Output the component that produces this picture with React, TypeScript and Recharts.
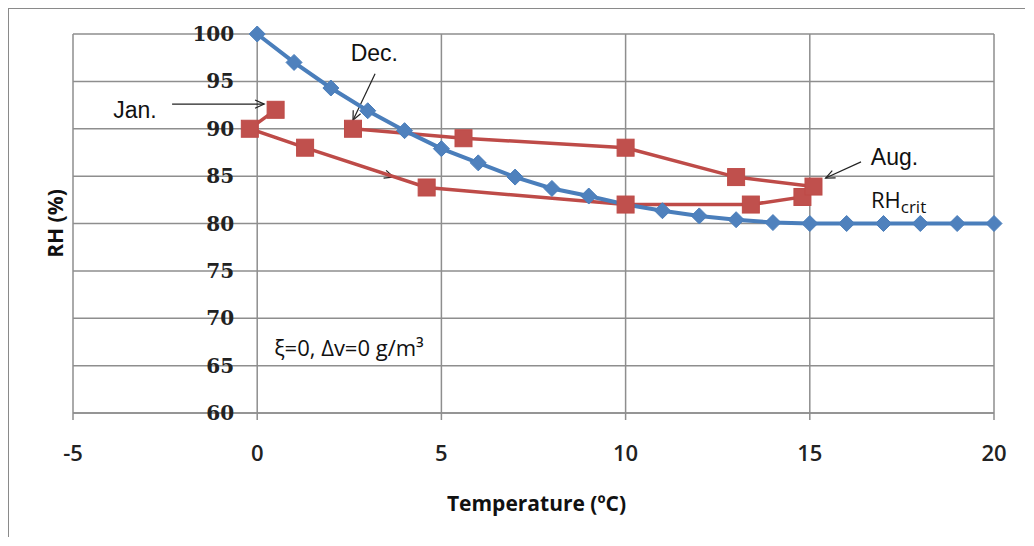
import React from 'react';
import {
  ScatterChart,
  Scatter,
  XAxis,
  YAxis,
  CartesianGrid,
  ReferenceLine,
  ReferenceDot,
} from 'recharts';

// ---- data ----
const critTemp = [0, 1, 2, 3, 4, 5, 6, 7, 8, 9, 10, 11, 12, 13, 14, 15, 16, 17, 18, 19, 20];
const critRH = [100, 97, 94.3, 91.9, 89.8, 87.9, 86.4, 84.9, 83.7, 82.9, 82.0, 81.35, 80.8, 80.4, 80.1, 80, 80, 80, 80, 80, 80];

const months = ['Jan', 'Feb', 'Mar', 'Apr', 'May', 'Jun', 'Jul', 'Aug', 'Sep', 'Oct', 'Nov', 'Dec'];
const monthTemp = [0.5, -0.2, 1.3, 4.6, 10.0, 13.4, 14.8, 15.1, 13.0, 10.0, 5.6, 2.6];
const monthRH = [92, 90, 88, 83.8, 82, 82, 82.8, 83.9, 84.9, 88, 89, 90];

const xTicks = [-5, 0, 5, 10, 15, 20];
const yTicks = [60, 65, 70, 75, 80, 85, 90, 95, 100];

// annotation texts (data coordinates)
const noteTexts = [
  { x: -3.32, y: 92.0, text: 'Jan.' },
  { x: 3.18, y: 98.0, text: 'Dec.' },
  { x: 17.3, y: 87.0, text: 'Aug.' },
];
// arrows (data coordinates): from -> to
const arrows = [
  { x1: -2.31, y1: 92.6, x2: 0.19, y2: 92.6 },
  { x1: 3.2, y1: 95.8, x2: 2.6, y2: 90.9 },
  { x1: 2.23, y1: 86.8, x2: 3.7, y2: 84.9 },
  { x1: 16.39, y1: 86.5, x2: 15.43, y2: 84.8 },
];
const critLabel = { x: 16.66, y: 82.6 };
const paramLabel = { x: 0.46, y: 67.0, text: 'ξ=0, Δv=0 g/m³' };

const critData = critTemp.map((t, i) => ({ x: t, y: critRH[i] }));
const monthData = monthTemp.map((t, i) => ({ x: t, y: monthRH[i], m: months[i] }));
const yTickData = yTicks.map((v) => ({ x: 0, y: v }));

const BLUE = '#4A7EBB';
const BLUE_M = '#4F81BD';
const RED = '#BE4B48';
const RED_M = '#C0504D';
const GRID = '#8e8e8e';

const W = 1016;
const H = 528;

const Diamond = (p: any) => {
  const { cx, cy } = p;
  const r = 8;
  return (
    <polygon
      points={`${cx},${cy - r} ${cx + r},${cy} ${cx},${cy + r} ${cx - r},${cy}`}
      fill={BLUE_M}
      stroke={BLUE}
      strokeWidth={1}
    />
  );
};

const Square = (p: any) => {
  const { cx, cy } = p;
  const r = 8.5;
  return <rect x={cx - r} y={cy - r} width={2 * r} height={2 * r} fill={RED_M} stroke={RED} strokeWidth={1} />;
};

const Empty = () => <g />;

const YTickLabel = (p: any) => (
  <text
    x={p.cx - 23}
    y={p.cy}
    textAnchor="end"
    dominantBaseline="central"
    fontFamily="'DejaVu Serif', serif"
    fontWeight="bold"
    fontSize={20}
    fill="#222"
  >
    {p.payload.y}
  </text>
);

const Arrow = (p: any) => {
  const { x1, y1, x2, y2 } = p;
  const a = Math.atan2(y2 - y1, x2 - x1);
  const L = 10;
  const s = 0.42;
  const ax = x2 - L * Math.cos(a - s);
  const ay = y2 - L * Math.sin(a - s);
  const bx = x2 - L * Math.cos(a + s);
  const by = y2 - L * Math.sin(a + s);
  return (
    <g>
      <line x1={x1} y1={y1} x2={x2} y2={y2} stroke="#222" strokeWidth={1.2} />
      <polyline points={`${ax},${ay} ${x2},${y2} ${bx},${by}`} fill="none" stroke="#222" strokeWidth={1.2} />
    </g>
  );
};

export default function App() {
  return (
    <div
      style={{
        width: W,
        height: H,
        borderLeft: '1px solid #8a8a8a',
        borderTop: '1px solid #8a8a8a',
        background: '#fff',
      }}
    >
      <ScatterChart width={W} height={H} margin={{ top: 25, right: 31, left: 0, bottom: 64 }}>
        <CartesianGrid stroke={GRID} strokeWidth={1.5} horizontal vertical />
        <XAxis
          type="number"
          dataKey="x"
          domain={[-5, 20]}
          ticks={xTicks}
          height={60}
          tickSize={7}
          tickMargin={25}
          axisLine={{ stroke: GRID, strokeWidth: 1.5 }}
          tickLine={{ stroke: GRID, strokeWidth: 1.5 }}
          tick={{ fontFamily: "'Open Sans', sans-serif", fontWeight: 600, fontSize: 22, fill: '#222' }}
          label={{
            content: (props: any) => {
              const vb = props.viewBox;
              return (
                <text
                  x={vb.x + vb.width / 2 + 3}
                  y={vb.y + 90}
                  textAnchor="middle"
                  dominantBaseline="central"
                  fontFamily="'Open Sans', sans-serif"
                  fontWeight="bold"
                  fontSize={21}
                  fill="#111"
                >
                  Temperature  (ºC)
                </text>
              );
            },
          }}
        />
        <YAxis
          type="number"
          dataKey="y"
          domain={[60, 100]}
          ticks={yTicks}
          width={64}
          tick={Empty}
          tickLine={false}
          axisLine={false}
          label={{
            content: (props: any) => {
              const vb = props.viewBox;
              const cx = vb.x + 46;
              const cy = vb.y + vb.height / 2;
              return (
                <text
                  x={cx}
                  y={cy}
                  textAnchor="middle"
                  dominantBaseline="central"
                  transform={`rotate(-90, ${cx}, ${cy})`}
                  fontFamily="'Open Sans', sans-serif"
                  fontWeight="bold"
                  fontSize={21}
                  fill="#111"
                >
                  RH (%)
                </text>
              );
            },
          }}
        />
        <Scatter data={yTickData} shape={YTickLabel} isAnimationActive={false} />
        <Scatter
          data={monthData}
          line={{ stroke: RED, strokeWidth: 3.5 }}
          lineType="joint"
          shape={Empty}
          isAnimationActive={false}
        />
        <Scatter
          data={critData}
          line={{ stroke: BLUE, strokeWidth: 4 }}
          lineType="joint"
          shape={Diamond}
          isAnimationActive={false}
        />
        <Scatter data={monthData} shape={Square} isAnimationActive={false} />
        {arrows.map((a, i) => (
          <ReferenceLine
            key={'a' + i}
            segment={[
              { x: a.x1, y: a.y1 },
              { x: a.x2, y: a.y2 },
            ]}
            ifOverflow="visible"
            shape={Arrow}
          />
        ))}
        {noteTexts.map((n, i) => (
          <ReferenceDot
            key={'t' + i}
            x={n.x}
            y={n.y}
            r={0}
            ifOverflow="visible"
            shape={(p: any) => (
              <text
                x={p.cx}
                y={p.cy}
                textAnchor="middle"
                dominantBaseline="central"
                fontFamily="'Liberation Sans', Arial, sans-serif"
                fontSize={23}
                fill="#111"
              >
                {n.text}
              </text>
            )}
          />
        ))}
        <ReferenceDot
          x={critLabel.x}
          y={critLabel.y}
          r={0}
          ifOverflow="visible"
          shape={(p: any) => (
            <text
              x={p.cx}
              y={p.cy}
              dominantBaseline="central"
              fontFamily="'Open Sans', sans-serif"
              fontSize={22}
              fill="#111"
            >
              RH
              <tspan fontSize={17} dy={7}>
                crit
              </tspan>
            </text>
          )}
        />
        <ReferenceDot
          x={paramLabel.x}
          y={paramLabel.y}
          r={0}
          ifOverflow="visible"
          shape={(p: any) => (
            <text
              x={p.cx}
              y={p.cy}
              dominantBaseline="central"
              fontFamily="'Open Sans', sans-serif"
              fontSize={22}
              fill="#111"
            >
              {paramLabel.text}
            </text>
          )}
        />
      </ScatterChart>
    </div>
  );
}
